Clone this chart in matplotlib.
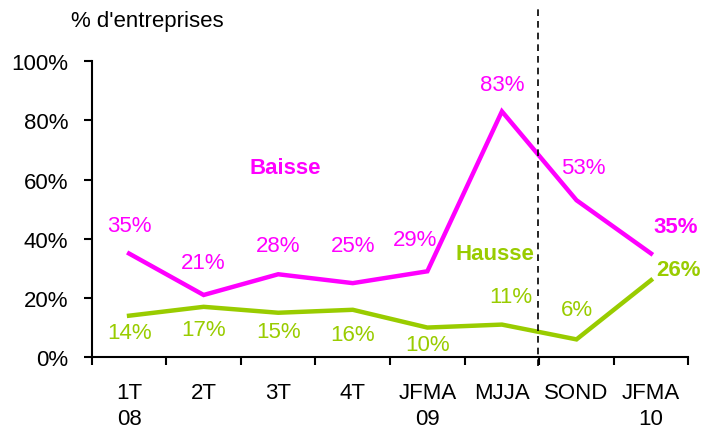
import matplotlib.pyplot as plt

plt.rcParams['font.family'] = ['Liberation Sans', 'DejaVu Sans']

# Données
periodes = ["1T\n08", "2T", "3T", "4T", "JFMA\n09", "MJJA", "SOND", "JFMA\n10"]
baisse = [35, 21, 28, 25, 29, 83, 53, 35]
hausse = [14, 17, 15, 16, 10, 11, 6, 26]

# Décalages des étiquettes (pixels)
off_baisse = [(0, 28), (0, 32), (0, 29), (0, 38), (-12, 32), (0, 27), (7, 33), (25, 27)]
off_hausse = [(0, -17), (0, -23), (0, -19), (0, -25), (0, -17), (9, 28), (0, 30), (27, 11)]

rose = '#FF00FF'
vert = '#99CC00'
taille = 16

fig = plt.figure(figsize=(7.06, 4.31), dpi=100)
ax = fig.add_axes([0.130, 0.169, 0.845, 0.687])

x = list(range(len(periodes)))
ax.plot(x, baisse, color=rose, linewidth=3.2, solid_joinstyle='miter')
ax.plot(x, hausse, color=vert, linewidth=3.2, solid_joinstyle='miter')

for i, v in enumerate(baisse):
    gras = 'bold' if i == len(baisse) - 1 else 'normal'
    ax.annotate(f"{v}%", (i, v), xytext=off_baisse[i], textcoords='offset pixels',
                ha='center', va='center', color=rose, fontsize=taille, fontweight=gras)
for i, v in enumerate(hausse):
    gras = 'bold' if i == len(hausse) - 1 else 'normal'
    ax.annotate(f"{v}%", (i, v), xytext=off_hausse[i], textcoords='offset pixels',
                ha='center', va='center', color=vert, fontsize=taille, fontweight=gras)

ax.text(2.09, 64, "Baisse", color=rose, fontsize=taille, fontweight='bold', ha='center', va='center')
ax.text(4.9, 35, "Hausse", color=vert, fontsize=taille, fontweight='bold', ha='center', va='center')

# Ligne de séparation pointillée
ax.axvline(5.48, ymin=-0.03, ymax=1.18, color='black', linestyle=(0, (4, 3)),
           linewidth=1.2, clip_on=False)

ax.set_xlim(-0.5, len(periodes) - 0.5)
ax.set_ylim(0, 100)
ax.set_yticks(range(0, 101, 20))
ax.set_yticklabels([f"{t}%" for t in range(0, 101, 20)], fontsize=taille)

# Graduations aux bords des catégories, étiquettes centrées
ax.set_xticks([i - 0.5 for i in range(len(periodes) + 1)])
ax.set_xticklabels([])
ax.set_xticks(x, minor=True)
ax.set_xticklabels(periodes, minor=True, fontsize=taille, linespacing=1.3)
ax.tick_params(axis='x', which='minor', length=0, pad=18)
ax.tick_params(axis='x', which='major', length=6, width=1.5, direction='out')
ax.tick_params(axis='y', length=6, width=1.5, direction='out', pad=11)

for s in ['top', 'right']:
    ax.spines[s].set_visible(False)
for s in ['left', 'bottom']:
    ax.spines[s].set_linewidth(1.5)

fig.text(0.208, 0.949, "% d'entreprises", fontsize=taille, ha='center', va='center')

fig.savefig('out.png', dpi=100)
